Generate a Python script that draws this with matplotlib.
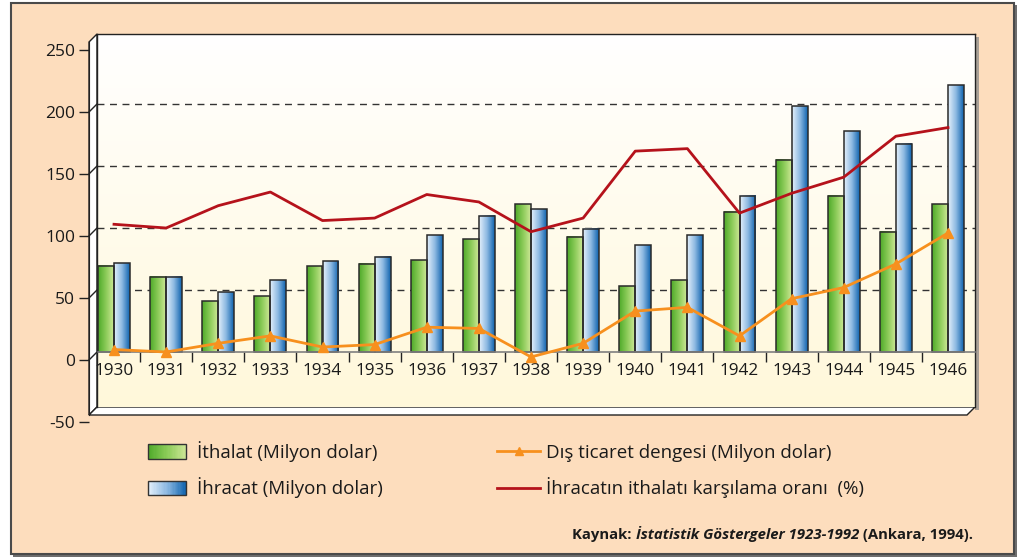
import numpy as np
import matplotlib
matplotlib.use("Agg")
import matplotlib.pyplot as plt
from matplotlib.colors import LinearSegmentedColormap
from matplotlib.patches import Rectangle, Polygon, ConnectionPatch
from matplotlib.lines import Line2D
from matplotlib.legend_handler import HandlerBase

plt.rcParams['font.family'] = ['Open Sans', 'DejaVu Sans']
plt.rcParams['axes.unicode_minus'] = False

# Veriler
yillar = [str(y) for y in range(1930, 1947)]
ithalat = [69.5, 60.5, 41, 45, 69, 71, 74, 91, 119, 93, 53, 58, 113, 155, 126, 97, 119]
ihracat = [71.5, 60.5, 48, 58, 73, 77, 94, 110, 115, 99.5, 86, 94, 126, 198, 178, 168, 215]
denge = [2, 0, 7, 13, 4, 6, 20, 19, -4, 7, 33, 36, 13, 43, 52, 71, 96]
oran = [103, 100, 118, 129, 106, 108, 127, 121, 97, 108, 162, 164, 112, 128, 141, 174, 181]

# Renkler
cm_yesil = LinearSegmentedColormap.from_list('yesil', ['#4FAA2A', '#8BCB58', '#CDE796'])
cm_mavi = LinearSegmentedColormap.from_list('mavi', ['#E4F0FB', '#8DB9E2', '#0F63AE'])
cm_duvar = LinearSegmentedColormap.from_list('duvar', ['#FFFFFF', '#FFF8DA'])
TURUNCU = '#F7901E'
KIRMIZI = '#B5121B'

# Sayfa düzeni (piksel)
W, H = 1025, 558
BX0, BX1 = 97, 975      # arka duvar
BY0, BY1 = 34, 407
D = 8                   # 3B derinlik kayması
Y0PIX = 352             # sıfır çizgisi
SC = 1.24               # piksel / birim
C0, STEP = 114, 52.125  # ilk kategori merkezi, aralık

fig = plt.figure(figsize=(W / 100, H / 100), dpi=100)

# Arka plan (piksel koordinatları)
bg = fig.add_axes([0, 0, 1, 1], zorder=0)
bg.set_xlim(0, W)
bg.set_ylim(H, 0)
bg.axis('off')
bg.add_patch(Rectangle((13, 5), 1004, 552, facecolor='#6e6e6e', edgecolor='none'))
bg.add_patch(Rectangle((11, 3), 1003, 551, facecolor='#FDDDBD', edgecolor='#4a4a4a', lw=1.5))
# duvar gölgesi
bg.add_patch(Rectangle((BX1, BY0 + 3), 4, BY1 - BY0, facecolor='#a8a097', edgecolor='none'))
# sol yan duvar ve taban
bg.add_patch(Polygon([(BX0 - D, BY0 + D), (BX0, BY0), (BX0, BY1), (BX0 - D, BY1 + D)],
                     closed=True, facecolor='white', edgecolor='#222222', lw=1))
bg.add_patch(Polygon([(BX0 - D, BY1 + D), (BX0, BY1), (BX1, BY1), (BX1 - D, BY1 + D)],
                     closed=True, facecolor='white', edgecolor='#222222', lw=1))

# Ana eksen (arka duvar)
ax = fig.add_axes([BX0 / W, 1 - BY1 / H, (BX1 - BX0) / W, (BY1 - BY0) / H], zorder=2)
yl = ((Y0PIX - BY1) / SC, (Y0PIX - BY0) / SC)
xl = ((BX0 - C0) / STEP, (BX1 - C0) / STEP)

ax.imshow(np.linspace(0, 1, 256).reshape(-1, 1), extent=(xl[0], xl[1], yl[0], yl[1]),
          cmap=cm_duvar, aspect='auto', zorder=0)

x = np.arange(len(yillar))
bw = 0.305
grad = np.linspace(0, 1, 64).reshape(1, -1)
for i in x:
    for x0, h, cm in [(i - bw, ithalat[i], cm_yesil), (i, ihracat[i], cm_mavi)]:
        ax.imshow(grad, extent=(x0, x0 + bw, 0, h), cmap=cm, aspect='auto', zorder=3)
        ax.add_patch(Rectangle((x0, 0), bw, h, facecolor='none', edgecolor='#2a2a2a',
                               lw=1.1, zorder=4))

ax.plot(x, oran, color=KIRMIZI, lw=2, zorder=5)
ax.plot(x, denge, color=TURUNCU, lw=2, marker='^', ms=7, zorder=6)

ax.set_xlim(*xl)
ax.set_ylim(*yl)

# ızgara
ax.set_yticks(np.arange(50, 201, 50))
ax.tick_params(axis='y', length=0, labelleft=False)
ax.grid(axis='y', color='#333333', lw=1, ls=(0, (5, 4)))
ax.set_axisbelow(True)

# x ekseni sıfırda
ax.spines['bottom'].set_position(('data', 0))
ax.spines['bottom'].set_color('#7f7f7f')
ax.spines['bottom'].set_linewidth(1.2)
ax.spines['bottom'].set_zorder(4.5)
for s in ['top', 'left', 'right']:
    ax.spines[s].set_color('#222222')
    ax.spines[s].set_linewidth(1)
ax.set_xticks(x)
ax.set_xticklabels(yillar)
ax.set_xticks(x[:-1] + 0.5, minor=True)
ax.tick_params(axis='x', which='major', length=0, pad=8, labelsize=12.3, labelcolor='#1a1a1a')
ax.tick_params(axis='x', which='minor', length=7, width=1, color='#222222')

# Ön eksen (y etiketleri)
fy_top = BY0 + D
fy_bot = Y0PIX + D + 50 * SC
axf = fig.add_axes([(BX0 - D) / W, 1 - fy_bot / H, 0.01, (fy_bot - fy_top) / H], zorder=3)
axf.patch.set_visible(False)
axf.set_ylim(-50, yl[1])
axf.set_xlim(0, 1)
for s in ['top', 'right', 'bottom']:
    axf.spines[s].set_visible(False)
axf.spines['left'].set_bounds(yl[0], yl[1])
axf.spines['left'].set_color('#222222')
axf.set_xticks([])
axf.set_yticks(np.arange(-50, 251, 50))
axf.tick_params(axis='y', length=7, width=1, color='#222222', labelsize=12.5,
                labelcolor='#1a1a1a', pad=3)

# yan duvardaki çapraz çizgiler
for v in [0, 50, 100, 150, 200]:
    con = ConnectionPatch(xyA=(0, v), coordsA=axf.transData, xyB=(xl[0], v),
                          coordsB=ax.transData, color='#222222', lw=1, zorder=4)
    fig.add_artist(con)


# Gradyan lejant kutuları
class GradyanHandler(HandlerBase):
    def __init__(self, cmap, w_px):
        super().__init__()
        self.cmap = cmap
        self.w_px = w_px

    def create_artists(self, legend, orig_handle, xdescent, ydescent, width, height,
                       fontsize, trans):
        n = 30
        w = self.w_px * 72 / 100
        arts = []
        for k in range(n):
            arts.append(Rectangle((-xdescent + w * k / n, -ydescent), w / n + 0.05, height,
                                  facecolor=self.cmap((k + 0.5) / n), edgecolor='none',
                                  transform=trans))
        arts.append(Rectangle((-xdescent, -ydescent), w, height, facecolor='none',
                              edgecolor='#333333', lw=1, transform=trans))
        return arts


h_yesil = Rectangle((0, 0), 1, 1)
h_mavi = Rectangle((0, 0), 1, 1)
h_denge = Line2D([], [], color=TURUNCU, lw=2, marker='^', ms=6)
h_oran = Line2D([], [], color=KIRMIZI, lw=2)

fig.legend([h_yesil, h_mavi, h_denge, h_oran],
           ['İthalat (Milyon dolar)', 'İhracat (Milyon dolar)',
            'Dış ticaret dengesi (Milyon dolar)', 'İhracatın ithalatı karşılama oranı  (%)'],
           handler_map={h_yesil: GradyanHandler(cm_yesil, 38), h_mavi: GradyanHandler(cm_mavi, 38)},
           ncol=2, loc='upper left', bbox_to_anchor=(148 / W, 1 - 441 / H),
           frameon=False, fontsize=13.5, handlelength=2.29, handleheight=0.8,
           handletextpad=0.32, columnspacing=6.1, labelspacing=0.83, borderpad=0,
           borderaxespad=0, labelcolor='#1a1a1a')

# Kaynak
t3 = bg.text(973, 535, ' (Ankara, 1994).', ha='right', va='center', fontsize=10.7,
             fontweight='bold', color='#1a1a1a')
t2 = bg.annotate('İstatistik Göstergeler 1923-1992', xy=(0, 0), xycoords=t3,
                 ha='right', va='bottom', fontsize=10.7, fontweight='bold', style='italic',
                 color='#1a1a1a')
t1 = bg.annotate('Kaynak: ', xy=(0, 0), xycoords=t2, ha='right', va='bottom',
                 fontsize=10.7, fontweight='bold', color='#1a1a1a')

fig.savefig('out.png', dpi=100)
plt.close(fig)
